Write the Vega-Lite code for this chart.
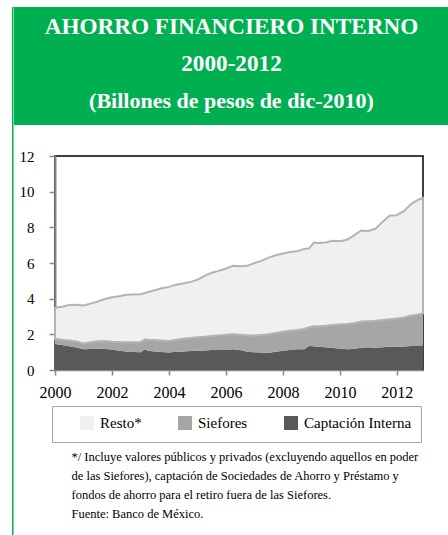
{
  "$schema": "https://vega.github.io/schema/vega-lite/v6.json",
  "padding": {"left": 12, "top": 7, "right": 0, "bottom": 0},
  "background": "white",
  "config": {"font": "Liberation Serif, DejaVu Serif, serif", "view": {"stroke": null}},
  "spacing": 0,
  "resolve": {"legend": {"color": "independent"}},
  "hconcat": [
    {
      "width": 1.5,
      "height": 528,
      "view": {"fill": "#00B050", "stroke": null},
      "data": {"values": []},
      "mark": "point"
    },
    {
      "spacing": 23,
      "resolve": {"legend": {"color": "independent"}},
      "vconcat": [
        {
          "width": 435,
          "height": 118,
          "view": {"fill": "#00B050", "stroke": null},
          "data": {"values": [
            {"n": 1, "linea": "AHORRO FINANCIERO INTERNO"},
            {"n": 2, "linea": "2000-2012"},
            {"n": 3, "linea": "(Billones de pesos de dic-2010)"}
          ]},
          "mark": {"type": "text", "color": "white", "fontWeight": "bold", "font": "Liberation Serif, DejaVu Serif, serif", "baseline": "middle", "align": "center"},
          "encoding": {
            "y": {"field": "n", "type": "quantitative", "axis": null, "scale": {"domain": [0.46, 3.65], "reverse": true, "nice": false, "zero": false}},
            "text": {"field": "linea"},
            "size": {"condition": {"test": "datum.n === 3", "value": 22}, "value": 23.2}
          }
        },
        {
          "spacing": 3,
          "resolve": {"legend": {"color": "independent"}},
          "hconcat": [
            {
              "width": 1,
              "height": 214,
              "data": {"values": []},
              "mark": "point"
            },
            {
              "width": 368,
              "height": 214,
              "view": {"stroke": "black", "strokeWidth": 1.5},
              "data": {"values": [
                {"fecha": "2000-01-01", "Captación Interna": 1.46, "Siefores": 0.29, "Resto*": 1.74},
                {"fecha": "2000-04-01", "Captación Interna": 1.40, "Siefores": 0.30, "Resto*": 1.85},
                {"fecha": "2000-07-01", "Captación Interna": 1.33, "Siefores": 0.33, "Resto*": 1.99},
                {"fecha": "2000-10-01", "Captación Interna": 1.26, "Siefores": 0.34, "Resto*": 2.06},
                {"fecha": "2001-01-01", "Captación Interna": 1.16, "Siefores": 0.33, "Resto*": 2.13},
                {"fecha": "2001-04-01", "Captación Interna": 1.18, "Siefores": 0.38, "Resto*": 2.16},
                {"fecha": "2001-07-01", "Captación Interna": 1.19, "Siefores": 0.42, "Resto*": 2.23},
                {"fecha": "2001-10-01", "Captación Interna": 1.18, "Siefores": 0.44, "Resto*": 2.36},
                {"fecha": "2002-01-01", "Captación Interna": 1.15, "Siefores": 0.44, "Resto*": 2.49},
                {"fecha": "2002-04-01", "Captación Interna": 1.08, "Siefores": 0.49, "Resto*": 2.57},
                {"fecha": "2002-07-01", "Captación Interna": 1.04, "Siefores": 0.51, "Resto*": 2.67},
                {"fecha": "2002-10-01", "Captación Interna": 1.01, "Siefores": 0.54, "Resto*": 2.69},
                {"fecha": "2003-01-01", "Captación Interna": 0.99, "Siefores": 0.57, "Resto*": 2.69},
                {"fecha": "2003-03-01", "Captación Interna": 1.16, "Siefores": 0.56, "Resto*": 2.60},
                {"fecha": "2003-04-01", "Captación Interna": 1.08, "Siefores": 0.62, "Resto*": 2.66},
                {"fecha": "2003-07-01", "Captación Interna": 1.04, "Siefores": 0.64, "Resto*": 2.79},
                {"fecha": "2003-10-01", "Captación Interna": 1.01, "Siefores": 0.65, "Resto*": 2.92},
                {"fecha": "2004-01-01", "Captación Interna": 0.98, "Siefores": 0.65, "Resto*": 3.03},
                {"fecha": "2004-04-01", "Captación Interna": 1.03, "Siefores": 0.67, "Resto*": 3.08},
                {"fecha": "2004-07-01", "Captación Interna": 1.04, "Siefores": 0.71, "Resto*": 3.10},
                {"fecha": "2004-10-01", "Captación Interna": 1.06, "Siefores": 0.73, "Resto*": 3.14},
                {"fecha": "2005-01-01", "Captación Interna": 1.08, "Siefores": 0.75, "Resto*": 3.24},
                {"fecha": "2005-04-01", "Captación Interna": 1.10, "Siefores": 0.76, "Resto*": 3.42},
                {"fecha": "2005-07-01", "Captación Interna": 1.12, "Siefores": 0.78, "Resto*": 3.55},
                {"fecha": "2005-10-01", "Captación Interna": 1.12, "Siefores": 0.82, "Resto*": 3.62},
                {"fecha": "2006-01-01", "Captación Interna": 1.12, "Siefores": 0.85, "Resto*": 3.72},
                {"fecha": "2006-04-01", "Captación Interna": 1.16, "Siefores": 0.84, "Resto*": 3.84},
                {"fecha": "2006-07-01", "Captación Interna": 1.12, "Siefores": 0.86, "Resto*": 3.84},
                {"fecha": "2006-10-01", "Captación Interna": 1.02, "Siefores": 0.91, "Resto*": 3.91},
                {"fecha": "2007-01-01", "Captación Interna": 0.99, "Siefores": 0.95, "Resto*": 4.06},
                {"fecha": "2007-04-01", "Captación Interna": 0.98, "Siefores": 0.98, "Resto*": 4.16},
                {"fecha": "2007-07-01", "Captación Interna": 0.97, "Siefores": 1.03, "Resto*": 4.30},
                {"fecha": "2007-10-01", "Captación Interna": 1.02, "Siefores": 1.06, "Resto*": 4.35},
                {"fecha": "2008-01-01", "Captación Interna": 1.08, "Siefores": 1.07, "Resto*": 4.38},
                {"fecha": "2008-04-01", "Captación Interna": 1.12, "Siefores": 1.08, "Resto*": 4.42},
                {"fecha": "2008-07-01", "Captación Interna": 1.16, "Siefores": 1.08, "Resto*": 4.42},
                {"fecha": "2008-10-01", "Captación Interna": 1.16, "Siefores": 1.14, "Resto*": 4.48},
                {"fecha": "2008-12-01", "Captación Interna": 1.34, "Siefores": 1.06, "Resto*": 4.42},
                {"fecha": "2009-02-01", "Captación Interna": 1.33, "Siefores": 1.12, "Resto*": 4.70},
                {"fecha": "2009-04-01", "Captación Interna": 1.30, "Siefores": 1.15, "Resto*": 4.67},
                {"fecha": "2009-07-01", "Captación Interna": 1.27, "Siefores": 1.21, "Resto*": 4.67},
                {"fecha": "2009-10-01", "Captación Interna": 1.23, "Siefores": 1.29, "Resto*": 4.73},
                {"fecha": "2010-01-01", "Captación Interna": 1.21, "Siefores": 1.35, "Resto*": 4.66},
                {"fecha": "2010-04-01", "Captación Interna": 1.17, "Siefores": 1.41, "Resto*": 4.72},
                {"fecha": "2010-07-01", "Captación Interna": 1.18, "Siefores": 1.44, "Resto*": 4.93},
                {"fecha": "2010-10-01", "Captación Interna": 1.25, "Siefores": 1.47, "Resto*": 5.10},
                {"fecha": "2011-01-01", "Captación Interna": 1.27, "Siefores": 1.47, "Resto*": 5.06},
                {"fecha": "2011-04-01", "Captación Interna": 1.25, "Siefores": 1.51, "Resto*": 5.16},
                {"fecha": "2011-07-01", "Captación Interna": 1.27, "Siefores": 1.53, "Resto*": 5.50},
                {"fecha": "2011-10-01", "Captación Interna": 1.30, "Siefores": 1.55, "Resto*": 5.81},
                {"fecha": "2012-01-01", "Captación Interna": 1.31, "Siefores": 1.58, "Resto*": 5.79},
                {"fecha": "2012-04-01", "Captación Interna": 1.32, "Siefores": 1.63, "Resto*": 5.97},
                {"fecha": "2012-07-01", "Captación Interna": 1.34, "Siefores": 1.71, "Resto*": 6.25},
                {"fecha": "2012-10-01", "Captación Interna": 1.35, "Siefores": 1.77, "Resto*": 6.43},
                {"fecha": "2012-12-01", "Captación Interna": 1.36, "Siefores": 1.81, "Resto*": 6.48}
              ]},
              "transform": [
                {"fold": ["Captación Interna", "Siefores", "Resto*"], "as": ["serie", "valor"]},
                {"calculate": "indexof(['Captación Interna', 'Siefores', 'Resto*'], datum.serie)", "as": "orden"}
              ],
              "mark": {"type": "area", "strokeWidth": 2},
              "encoding": {
                "x": {
                  "field": "fecha", "type": "temporal",
                  "scale": {"type": "utc", "domain": [{"year": 2000, "month": 1, "date": 1, "utc": true}, {"year": 2012, "month": 12, "date": 1, "utc": true}]},
                  "axis": {
                    "format": "%Y", "tickCount": {"interval": "year", "step": 2}, "labelFlush": false,
                    "grid": false, "domainColor": "#868686", "domainWidth": 1.5, "tickColor": "#868686", "tickWidth": 1.5, "tickSize": 5,
                    "labelFont": "Liberation Serif, DejaVu Serif, serif", "labelFontSize": 16, "labelColor": "black", "labelPadding": 9,
                    "title": [
                      "*/ Incluye valores públicos y privados (excluyendo aquellos en poder",
                      "\u00a0\u00a0\u00a0\u00a0\u00a0de las Siefores), captación de Sociedades de Ahorro y Préstamo y",
                      "\u00a0\u00a0\u00a0\u00a0\u00a0fondos de ahorro para el retiro fuera de las Siefores.",
                      "\u00a0\u00a0\u00a0\u00a0\u00a0Fuente: Banco de México."
                    ],
                    "titleFont": "Liberation Serif, DejaVu Serif, serif", "titleFontSize": 12.5, "titleFontWeight": "normal", "titleColor": "black",
                    "titleLineHeight": 19, "titleAnchor": "start", "titleAlign": "left", "titleBaseline": "top", "titleX": 16, "titleY": 80
                  }
                },
                "y": {
                  "field": "valor", "type": "quantitative", "stack": "zero",
                  "scale": {"domain": [0, 12], "nice": false},
                  "axis": {
                    "values": [0, 2, 4, 6, 8, 10, 12], "grid": false, "title": null,
                    "domainColor": "#868686", "domainWidth": 2, "tickColor": "#868686", "tickWidth": 1.5, "tickSize": 6,
                    "labelFont": "Liberation Serif, DejaVu Serif, serif", "labelFontSize": 15, "labelColor": "black", "labelPadding": 15
                  }
                },
                "color": {
                  "field": "serie", "type": "nominal",
                  "scale": {"domain": ["Resto*", "Siefores", "Captación Interna"], "range": ["#F0F0F0", "#A6A6A6", "#595959"]},
                  "legend": {
                    "orient": "none", "legendX": -3, "legendY": 250, "direction": "horizontal",
                    "title": "\u00a0", "titleOrient": "left", "titlePadding": 18, "titleFontSize": 15,
                    "padding": 9, "strokeColor": "#A6A6A6", "columnPadding": 33,
                    "symbolType": "square", "symbolSize": 196, "symbolStrokeWidth": 1.5,
                    "labelFont": "Liberation Serif, DejaVu Serif, serif", "labelFontSize": 15, "labelColor": "black", "labelOffset": 5,
                    "encode": {
                      "symbols": {"update": {
                        "stroke": {"signal": "datum.value === 'Captación Interna' ? '#4F81BD' : datum.value === 'Resto*' ? '#BDBDBD' : '#A6A6A6'"},
                        "strokeWidth": {"value": 1.5}
                      }},
                      "legend": {"update": {"strokeWidth": {"value": 1.5}}}
                    }
                  }
                },
                "order": {"field": "orden", "type": "quantitative", "sort": "ascending"},
                "stroke": {"condition": {"test": "datum.serie === 'Resto*'", "value": "#B4B4B4"}, "value": "transparent"}
              }
            }
          ]
        }
      ]
    }
  ]
}
